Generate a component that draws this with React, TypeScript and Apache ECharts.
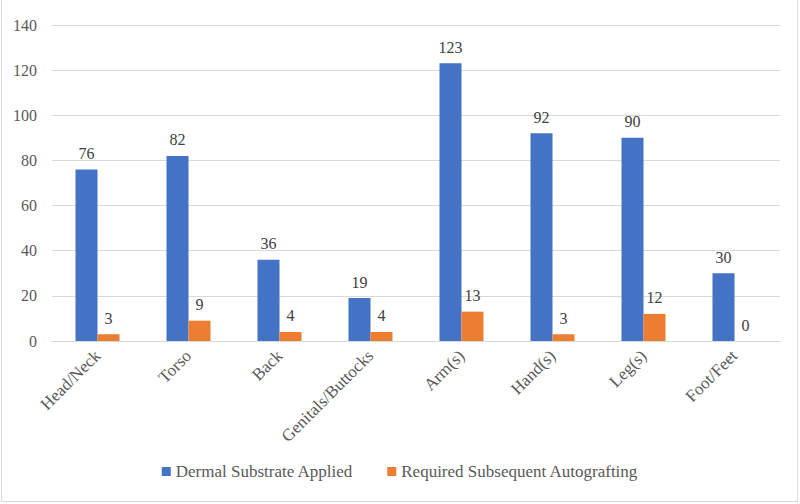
import React, { useEffect, useRef } from "react";
import * as echarts from "echarts";

const categories = ["Head/Neck", "Torso", "Back", "Genitals/Buttocks", "Arm(s)", "Hand(s)", "Leg(s)", "Foot/Feet"];
const dermalApplied = [76, 82, 36, 19, 123, 92, 90, 30];
const autografting = [3, 9, 4, 4, 13, 3, 12, 0];
const seriesNames = ["Dermal Substrate Applied", "Required Subsequent Autografting"];

const FONT = "'Liberation Serif'";

export default function App() {
  const ref = useRef<HTMLDivElement>(null);
  useEffect(() => {
    const chart = echarts.init(ref.current!, undefined, { renderer: "svg" });
    chart.setOption({
      animation: false,
      textStyle: { fontFamily: FONT },
      grid: { left: 52, right: 20, top: 25, bottom: 163 },
      legend: {
        bottom: 19,
        left: "center",
        itemWidth: 9,
        itemHeight: 9,
        itemGap: 34,
        icon: "rect",
        textStyle: { fontFamily: FONT, fontSize: 17, color: "#595959" },
        data: seriesNames,
      },
      xAxis: {
        type: "category",
        data: categories,
        axisLine: { lineStyle: { color: "#d9d9d9" } },
        axisTick: { show: false },
        axisLabel: { rotate: 45, fontFamily: FONT, fontSize: 17, color: "#595959", margin: 12, interval: 0 },
      },
      yAxis: {
        type: "value",
        min: 0,
        max: 140,
        interval: 20,
        axisLine: { show: false },
        axisTick: { show: false },
        splitLine: { lineStyle: { color: "#d9d9d9" } },
        axisLabel: { fontFamily: FONT, fontSize: 16, color: "#595959", margin: 15 },
      },
      series: [
        {
          name: seriesNames[0],
          type: "bar",
          data: dermalApplied,
          barWidth: 22,
          barGap: "0%",
          itemStyle: { color: "#4472C4" },
          label: { show: true, position: "top", distance: 8, fontFamily: FONT, fontSize: 16, color: "#404040" },
        },
        {
          name: seriesNames[1],
          type: "bar",
          data: autografting,
          barWidth: 22,
          barGap: "0%",
          itemStyle: { color: "#ED7D31" },
          label: { show: true, position: "top", distance: 8, fontFamily: FONT, fontSize: 16, color: "#404040" },
        },
      ],
    });
    return () => chart.dispose();
  }, []);
  return (
    <div style={{ position: "fixed", left: 0, top: 0, width: 800, height: 504, background: "#fff" }}>
      <div
        style={{
          position: "absolute",
          left: 1,
          top: -2,
          width: 797,
          height: 504,
          border: "1px solid #d9d9d9",
          boxSizing: "border-box",
          pointerEvents: "none",
        }}
      />
      <div ref={ref} style={{ width: 800, height: 504 }} />
    </div>
  );
}
